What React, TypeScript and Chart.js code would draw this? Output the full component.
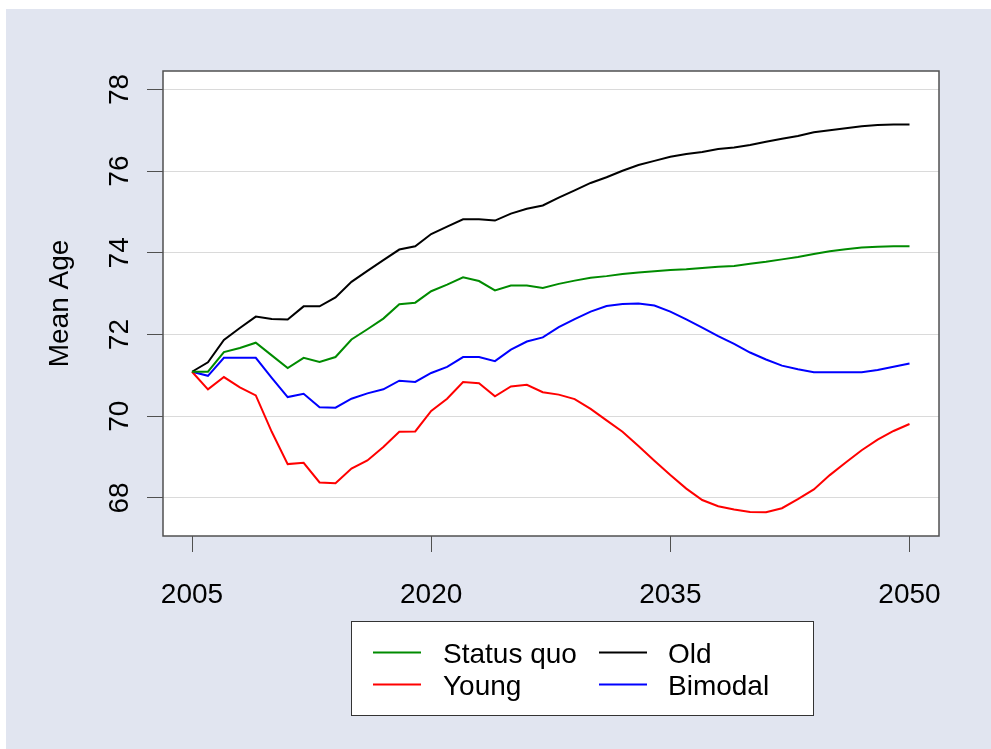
import React, { useEffect, useRef } from "react";
import { Chart, registerables } from "chart.js";

Chart.register(...registerables);

const years: number[] = [];
for (let y = 2005; y <= 2050; y++) years.push(y);

const statusQuo = [
  71.09, 71.09, 71.57, 71.67, 71.8, 71.49, 71.18, 71.43, 71.33, 71.45,
  71.88, 72.13, 72.39, 72.74, 72.78, 73.06, 73.22, 73.4, 73.31, 73.08,
  73.2, 73.2, 73.14, 73.24, 73.32, 73.39, 73.43, 73.48, 73.52, 73.55,
  73.58, 73.6, 73.63, 73.66, 73.68, 73.73, 73.78, 73.84, 73.9, 73.97,
  74.04, 74.09, 74.13, 74.15, 74.16, 74.16,
];
const young = [
  71.09, 70.66, 70.96, 70.71, 70.51, 69.62, 68.83, 68.86, 68.38, 68.36,
  68.72, 68.92, 69.25, 69.62, 69.63, 70.13, 70.43, 70.84, 70.81, 70.49,
  70.73, 70.77, 70.59, 70.53, 70.42, 70.18, 69.9, 69.62, 69.27, 68.91,
  68.56, 68.23, 67.95, 67.8, 67.72, 67.66, 67.65, 67.75, 67.97, 68.21,
  68.56, 68.87, 69.17, 69.43, 69.64, 69.81,
];
const old = [
  71.09, 71.32, 71.87, 72.16, 72.44, 72.38, 72.37, 72.69, 72.69, 72.91,
  73.29, 73.56, 73.82, 74.08, 74.16, 74.46, 74.64, 74.82, 74.82, 74.79,
  74.96, 75.08, 75.16, 75.35, 75.53, 75.71, 75.85, 76.01, 76.15, 76.25,
  76.35, 76.42, 76.47, 76.54, 76.58, 76.64, 76.72, 76.79, 76.86, 76.95,
  77.0, 77.05, 77.1, 77.13, 77.14, 77.14,
];
const bimodal = [
  71.09, 70.99, 71.43, 71.43, 71.43, 70.94, 70.47, 70.55, 70.22, 70.21,
  70.43, 70.56, 70.66, 70.87, 70.84, 71.06, 71.21, 71.45, 71.45, 71.35,
  71.63, 71.83, 71.93, 72.18, 72.38, 72.56, 72.7, 72.75, 72.76, 72.71,
  72.56, 72.37, 72.17, 71.96, 71.77, 71.56, 71.39, 71.24, 71.15, 71.08,
  71.08, 71.08, 71.08, 71.13, 71.21, 71.29,
];

const xTicks = [2005, 2020, 2035, 2050];
const yTicks = [68, 70, 72, 74, 76, 78];
const seriesNames = ["Status quo", "Young", "Old", "Bimodal"];
const seriesColors = ["#008B00", "#FF0000", "#000000", "#0000FF"];
const yTitle = "Mean Age";

const FONT = '"Liberation Sans", Arial, Helvetica, sans-serif';

const decorPlugin = {
  id: "decor",
  beforeDraw(chart: any) {
    const { ctx, chartArea, width, height } = chart;
    ctx.save();
    ctx.fillStyle = "#ffffff";
    ctx.fillRect(0, 0, width, height);
    ctx.fillStyle = "#e1e5f0";
    ctx.fillRect(6, 9, width - 6, height - 9);
    ctx.fillStyle = "#ffffff";
    ctx.fillRect(chartArea.left, chartArea.top, chartArea.right - chartArea.left, chartArea.bottom - chartArea.top);
    ctx.restore();
  },
  afterDraw(chart: any) {
    const { ctx, chartArea } = chart;
    const yScale = chart.scales.y;
    ctx.save();
    // plot box
    ctx.strokeStyle = "#505050";
    ctx.lineWidth = 1.5;
    ctx.strokeRect(chartArea.left, chartArea.top, chartArea.right - chartArea.left, chartArea.bottom - chartArea.top);

    // y tick labels (rotated)
    ctx.fillStyle = "#000";
    ctx.font = `28px ${FONT}`;
    ctx.textAlign = "center";
    ctx.textBaseline = "alphabetic";
    yScale.ticks.forEach((t: any) => {
      const py = yScale.getPixelForValue(t.value);
      ctx.save();
      ctx.translate(128, py);
      ctx.rotate(-Math.PI / 2);
      ctx.fillText(String(t.value), 0, 0);
      ctx.restore();
    });

    // y title
    ctx.save();
    ctx.translate(68, (chartArea.top + chartArea.bottom) / 2);
    ctx.rotate(-Math.PI / 2);
    ctx.fillText(yTitle, 0, 0);
    ctx.restore();

    // legend
    const lx = 351.5, ly = 621.5, lw = 462, lh = 94;
    ctx.fillStyle = "#ffffff";
    ctx.fillRect(lx, ly, lw, lh);
    ctx.strokeStyle = "#333";
    ctx.lineWidth = 1;
    ctx.strokeRect(lx, ly, lw, lh);
    const cols = [
      { lineX: 373, textX: 443 },
      { lineX: 599, textX: 668 },
    ];
    const rows = [
      { lineY: 652.5, base: 663 },
      { lineY: 684.5, base: 695 },
    ];
    chart.data.datasets.forEach((ds: any, i: number) => {
      const c = cols[Math.floor(i / 2)];
      const r = rows[i % 2];
      ctx.strokeStyle = ds.borderColor;
      ctx.lineWidth = 2;
      ctx.beginPath();
      ctx.moveTo(c.lineX, r.lineY);
      ctx.lineTo(c.lineX + 48, r.lineY);
      ctx.stroke();
      ctx.fillStyle = "#000";
      ctx.textAlign = "left";
      ctx.textBaseline = "alphabetic";
      ctx.font = `28px ${FONT}`;
      ctx.fillText(ds.label, c.textX, r.base);
    });
    ctx.restore();
  },
};

export default function App() {
  const ref = useRef<HTMLCanvasElement>(null);
  useEffect(() => {
    if (!ref.current) return;
    const all = [statusQuo, young, old, bimodal];
    const chart = new Chart(ref.current, {
      type: "line",
      data: {
        datasets: all.map((vals, i) => ({
          label: seriesNames[i],
          data: years.map((yr, j) => ({ x: yr, y: vals[j] })),
          borderColor: seriesColors[i],
          backgroundColor: seriesColors[i],
          borderWidth: 2,
          pointRadius: 0,
          tension: 0,
          fill: false,
        })),
      },
      options: {
        responsive: false,
        animation: false,
        devicePixelRatio: 1,
        layout: { padding: { left: 0, top: 71, right: 52, bottom: 0 } },
        plugins: { legend: { display: false }, tooltip: { enabled: false } },
        scales: {
          x: {
            type: "linear",
            min: 2003.18,
            max: 2051.85,
            afterBuildTicks: (s: any) => {
              s.ticks = xTicks.map((v) => ({ value: v }));
            },
            afterFit: (s: any) => {
              s.height = 213;
            },
            grid: { drawOnChartArea: false, drawTicks: true, tickLength: 16, tickColor: "#505050", tickWidth: 1 },
            border: { display: false },
            ticks: {
              padding: 26,
              color: "#000",
              font: { family: FONT, size: 28 },
              maxRotation: 0,
              autoSkip: false,
              callback: (v: any) => String(v),
            },
          },
          y: {
            type: "linear",
            min: 67.07,
            max: 78.45,
            afterBuildTicks: (s: any) => {
              s.ticks = yTicks.map((v) => ({ value: v }));
            },
            afterFit: (s: any) => {
              s.width = 163;
            },
            grid: { color: "#dadada", lineWidth: 1, drawTicks: true, tickLength: 16, tickColor: "#505050", tickWidth: 1 },
            border: { display: false },
            ticks: { display: false },
          },
        },
      },
      plugins: [decorPlugin],
    });
    return () => chart.destroy();
  }, []);
  return (
    <div style={{ position: "absolute", left: 0, top: 0, width: 991, height: 749 }}>
      <canvas ref={ref} width={991} height={749} style={{ display: "block" }} />
    </div>
  );
}
